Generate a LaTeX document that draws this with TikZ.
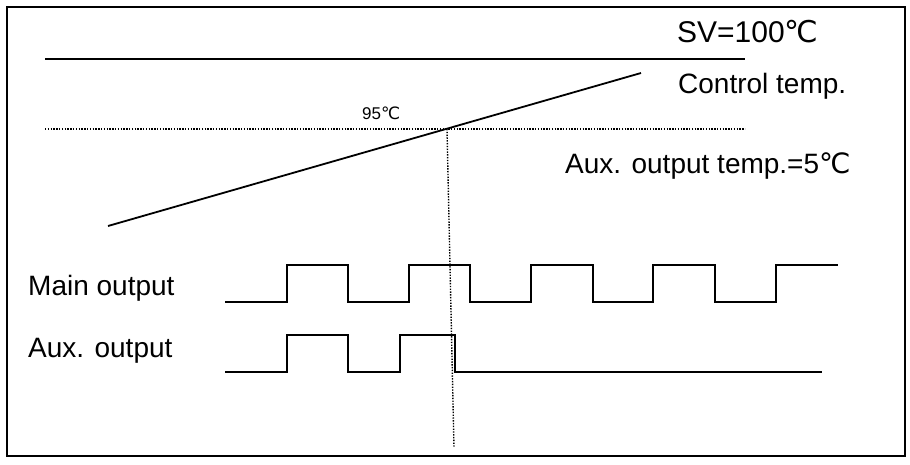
\documentclass[tikz,border=0pt]{standalone}
\usepackage{fontspec}
\setmainfont{Liberation Sans}
\newfontfamily\dvfont{DejaVu Sans}
\newcommand{\mydegc}{{\dvfont ℃}}
\begin{document}
\begin{tikzpicture}[x=1pt,y=-1pt,
  solidline/.style={line width=1.8pt, line join=miter},
  dotline/.style={line width=1.4pt, dash pattern=on 1.4pt off 1.4pt},
  big/.style={font=\fontsize{30}{34}\selectfont, inner sep=0pt, anchor=base west},
  lbl/.style={font=\fontsize{28}{32}\selectfont, inner sep=0pt, anchor=base west},
  small/.style={font=\fontsize{17}{20}\selectfont, inner sep=0pt, anchor=base west}]
\useasboundingbox (0,0) rectangle (910,464);
\draw[line width=1.3pt] (7,7) rectangle (905,456);
% coordinates
\coordinate (svL) at (45,59);   \coordinate (svR) at (745,59);
\coordinate (dL) at (45,129);   \coordinate (dR) at (745,129);
\coordinate (cA) at (108,226);  \coordinate (cB) at (641,73);
\coordinate (vT) at (447,129);  \coordinate (vB) at (454,448);
% labels
\node[big] (sv) at (677,42) {SV=100\mydegc};
\node[lbl] (ct) at (678,93) {Control temp.};
\node[small] (t95) at (362,119) {95\mydegc};
\node[lbl] (aux) at (565,173) {Aux. output temp.=5\mydegc};
\node[lbl] (mo) at (28,295) {Main output};
\node[lbl] (ao) at (28,357) {Aux. output};
% lines
\draw[solidline] (svL) -- (svR);
\draw[dotline] (dL) -- (dR);
\draw[solidline] (cA) -- (cB);
\draw[dotline] (vT) -- (vB);
% main output waveform
\draw[solidline] (225,302) -- (287,302) -- (287,265) -- (348,265) -- (348,302)
  -- (409,302) -- (409,265) -- (470,265) -- (470,302)
  -- (531,302) -- (531,265) -- (593,265) -- (593,302)
  -- (653,302) -- (653,265) -- (715,265) -- (715,302)
  -- (776,302) -- (776,265) -- (838,265);
% aux output waveform
\draw[solidline] (225,372) -- (287,372) -- (287,335) -- (348,335) -- (348,372)
  -- (400,372) -- (400,335) -- (455,335) -- (455,372) -- (822,372);
\end{tikzpicture}
\end{document}
